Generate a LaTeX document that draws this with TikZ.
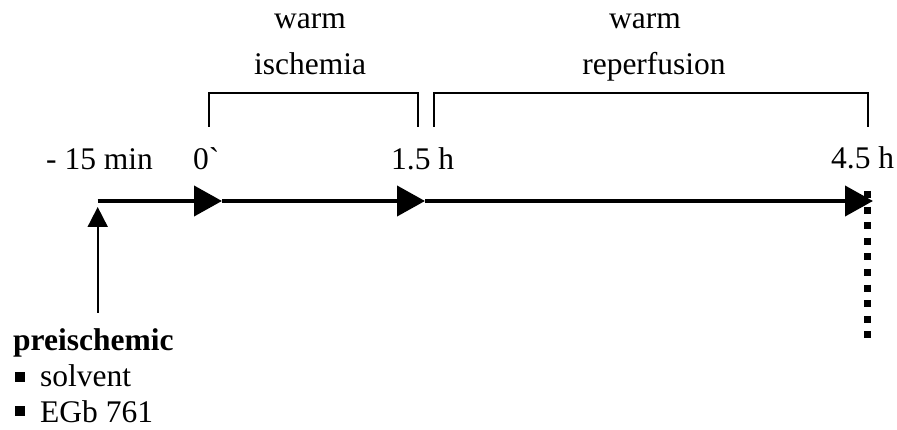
\documentclass[tikz,border=0pt]{standalone}
\usepackage{fontspec}
\setmainfont{Liberation Serif}[Ligatures=TeXOff]
\usetikzlibrary{arrows.meta}
\begin{document}
\begin{tikzpicture}[x=1pt,y=-1pt,
  lbl/.style={inner sep=0pt,font=\fontsize{31.5}{36}\selectfont},
  timeline/.style={line width=4pt,-{Triangle[length=28pt,width=30pt]}},
  marker/.style={line width=1.8pt,-{Triangle[length=20pt,width=20pt]}},
  bracket/.style={line width=1.6pt},
  endmark/.style={line width=7pt,dash pattern=on 7pt off 8.6pt},
  bulletsq/.style={fill=black,draw=none,minimum size=9.5pt,inner sep=0pt}]
\useasboundingbox (0,0) rectangle (897,430);

% time points on the axis
\coordinate (t0) at (97.7,201);
\coordinate (t1) at (222,201);
\coordinate (t2) at (425,201);
\coordinate (t3) at (873,201);

% end of reperfusion marker
\coordinate (d0) at (867.7,191);
\coordinate (d1) at (867.7,340);
\draw[endmark] (d0) -- (d1);

% time axis
\draw[timeline] (t0) -- (t1);
\draw[timeline] (t1) -- (t2);
\draw[timeline] (t2) -- (t3);

% pretreatment arrow
\coordinate (p0) at (97.7,313);
\coordinate (p1) at (97.7,207);
\draw[marker] (p0) -- (p1);

% time labels
\node[lbl,anchor=base west] (lm15) at (46,170) {- 15 min};
\node[lbl,anchor=base west] (l0) at (193,170) {0`};
\node[lbl,anchor=base west] (l15) at (391,170) {1.5 h};
\node[lbl,anchor=base west] (l45) at (831,169) {4.5 h};

% phase brackets
\coordinate (b1a) at (209,127);
\coordinate (b1b) at (418,127);
\coordinate (b2a) at (434,127);
\coordinate (b2b) at (868,127);
\draw[bracket] (b1a) -- (209,93) -- (418,93) -- (b1b);
\draw[bracket] (b2a) -- (434,93) -- (868,93) -- (b2b);

% phase names
\node[lbl,anchor=base] (w1) at (310,29) {warm};
\node[lbl,anchor=base] (isch) at (310,75) {ischemia};
\node[lbl,anchor=base] (w2) at (645,29) {warm};
\node[lbl,anchor=base] (rep) at (654,75) {reperfusion};

% pretreatment groups
\node[lbl,anchor=base west,font=\fontsize{31.5}{36}\selectfont\bfseries] (pre) at (13,351) {preischemic};
\node[bulletsq] (s1) at (20,377) {};
\node[lbl,anchor=base west] (solv) at (40,386) {solvent};
\node[bulletsq] (s2) at (20,411) {};
\node[lbl,anchor=base west] (egb) at (40,422) {EGb 761};
\end{tikzpicture}
\end{document}
